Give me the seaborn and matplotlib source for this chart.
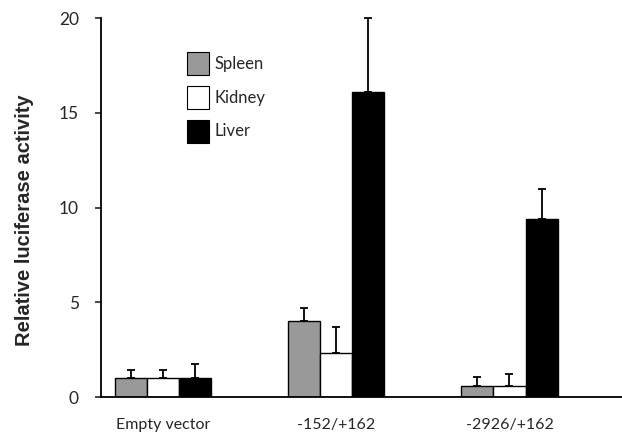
import numpy as np
import pandas as pd
import matplotlib
matplotlib.use('Agg')
import matplotlib.pyplot as plt
import seaborn as sns

# values
constructs = ["Empty vector", "-152/+162", "-2926/+162"]
tissues = ["Spleen", "Kidney", "Liver"]
spleen = [1.0, 4.0, 0.6]
kidney = [1.0, 2.3, 0.6]
liver = [1.0, 16.1, 9.4]
spleen_err = [0.45, 0.7, 0.45]
kidney_err = [0.45, 1.4, 0.6]
liver_err = [0.75, 3.9, 1.6]

colors = {"Spleen": "#999999", "Kidney": "#ffffff", "Liver": "#000000"}

df = pd.DataFrame({
    "Construct": constructs * 3,
    "Tissue": np.repeat(tissues, 3),
    "Activity": spleen + kidney + liver,
})
errs = {"Spleen": spleen_err, "Kidney": kidney_err, "Liver": liver_err}

sns.set_style("white")
plt.rcParams['font.family'] = ['Lato', 'DejaVu Sans']

fig = plt.figure(figsize=(6.22, 4.33), dpi=100)
ax = fig.add_axes([0.1624, 0.0831, 0.8376, 0.8753])

sns.barplot(data=df, x="Construct", y="Activity", hue="Tissue",
            order=constructs, hue_order=tissues, palette=colors,
            width=0.555, edgecolor="black", linewidth=1.0, ax=ax,
            legend=False)

# one-sided error bars
for tissue, cont in zip(tissues, ax.containers):
    for bar, e in zip(cont, errs[tissue]):
        xc = bar.get_x() + bar.get_width() / 2
        ax.errorbar(xc, bar.get_height(), yerr=[[0], [e]], fmt="none",
                    ecolor="black", elinewidth=1.3, capsize=3, capthick=1.3,
                    clip_on=False, zorder=1)

ax.set_xlim(-0.36, 2.65)
ax.set_ylim(0, 20)
ax.set_yticks([0, 5, 10, 15, 20])
ax.set_xlabel("")
ax.set_ylabel("Relative luciferase activity", fontsize=14.5, fontweight="bold",
              family="Liberation Sans")
ax.yaxis.set_label_coords(-0.128, 0.467)
ax.tick_params(axis="y", direction="out", length=4, width=1.2, pad=12,
               labelsize=12.5, left=True)
ax.tick_params(axis="x", length=0, pad=15, labelsize=11.5)

for s in ["top", "right"]:
    ax.spines[s].set_visible(False)
for s in ["left", "bottom"]:
    ax.spines[s].set_linewidth(1.3)
    ax.spines[s].set_color("black")

handles = [plt.Rectangle((0, 0), 1, 1, facecolor=colors[t], edgecolor="black",
                         linewidth=0.8) for t in tissues]
ax.legend(handles, tissues, loc="upper left", bbox_to_anchor=(0.15, 0.933),
          frameon=False, fontsize=12, handlelength=1.32, handleheight=1.74,
          labelspacing=0.66, handletextpad=0.3, borderpad=0)

fig.savefig("out.png", dpi=100)
